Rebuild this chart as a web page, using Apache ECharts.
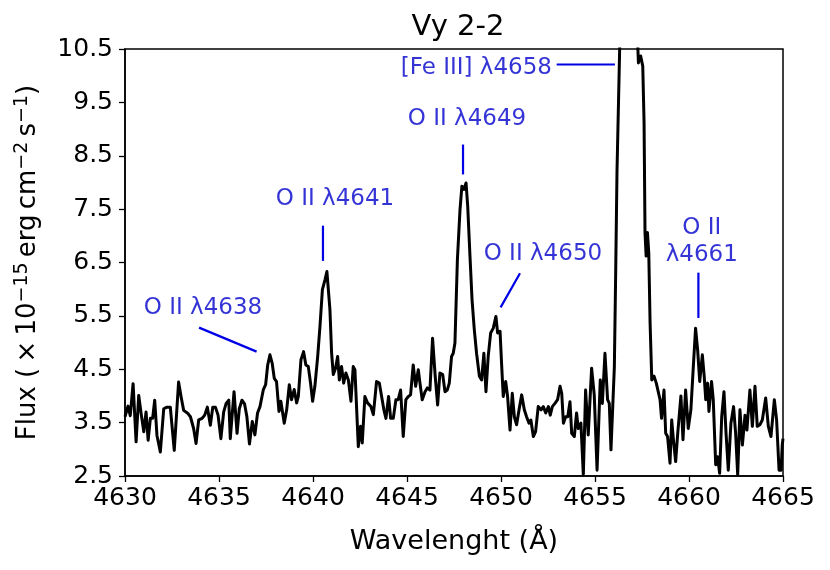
<!DOCTYPE html>
<html><head><meta charset="utf-8">
<script src="https://cdn.jsdelivr.net/npm/echarts@6/dist/echarts.min.js"></script>
<style>html,body{margin:0;padding:0;background:#fff}#c{width:830px;height:570px}</style>
</head><body><div id="c"></div>
<script>
const wavelength = [
4630.00,4630.16,4630.28,4630.43,4630.59,4630.73,4630.87,4631.00,4631.12,4631.23,4631.35,4631.47,4631.58,4631.70,4631.88,
4632.06,4632.23,4632.41,4632.62,4632.85,4633.00,4633.12,4633.22,4633.35,4633.48,4633.65,4633.78,4633.92,4634.10,4634.24,
4634.38,4634.54,4634.67,4634.81,4634.95,4635.10,4635.25,4635.38,4635.52,4635.60,4635.80,4635.96,4636.08,4636.22,4636.36,
4636.48,4636.62,4636.77,4636.91,4637.05,4637.18,4637.36,4637.48,4637.59,4637.71,4637.83,4637.94,4638.06,4638.19,4638.29,
4638.47,4638.60,4638.74,4638.86,4639.00,4639.13,4639.22,4639.36,4639.50,4639.62,4639.75,4639.87,4639.98,4640.10,4640.25,
4640.37,4640.50,4640.64,4640.74,4640.81,4640.90,4640.99,4641.08,4641.20,4641.31,4641.40,4641.52,4641.63,4641.75,4641.88,
4642.02,4642.14,4642.23,4642.41,4642.53,4642.62,4642.76,4642.90,4643.08,4643.21,4643.38,4643.53,4643.65,4643.77,4643.88,
4644.02,4644.13,4644.27,4644.41,4644.53,4644.66,4644.80,4644.94,4645.07,4645.19,4645.33,4645.46,4645.60,4645.69,4645.81,
4645.96,4646.08,4646.22,4646.36,4646.50,4646.63,4646.75,4646.90,4647.02,4647.14,4647.25,4647.37,4647.46,4647.55,4647.68,
4647.82,4647.92,4648.03,4648.14,4648.23,4648.35,4648.46,4648.58,4648.70,4648.85,4648.97,4649.09,4649.20,4649.32,4649.45,
4649.59,4649.73,4649.82,4649.95,4650.03,4650.12,4650.25,4650.35,4650.48,4650.60,4650.71,4650.83,4650.96,4651.10,4651.24,
4651.36,4651.49,4651.59,4651.72,4651.84,4651.98,4652.13,4652.25,4652.38,4652.52,4652.62,4652.73,4652.87,4653.01,4653.14,
4653.23,4653.32,4653.44,4653.55,4653.67,4653.76,4653.90,4654.02,4654.11,4654.25,4654.38,4654.50,4654.64,4654.82,4654.96,
4655.11,4655.28,4655.39,4655.53,4655.67,4655.76,4655.85,4655.92,4656.03,4656.10,4656.17,4656.25,4656.33,4656.50,4656.70,
4656.90,4657.10,4657.26,4657.31,4657.43,4657.54,4657.61,4657.66,4657.72,4657.79,4657.86,4657.93,4658.02,4658.14,4658.26,
4658.36,4658.46,4658.54,4658.67,4658.76,4658.86,4658.99,4659.08,4659.17,4659.29,4659.40,4659.57,4659.68,4659.82,4659.96,
4660.10,4660.23,4660.35,4660.46,4660.57,4660.71,4660.81,4660.89,4660.99,4661.06,4661.20,4661.29,4661.42,4661.52,4661.63,
4661.74,4661.86,4661.97,4662.09,4662.23,4662.37,4662.48,4662.59,4662.71,4662.84,4662.98,4663.08,4663.24,4663.37,4663.51,
4663.63,4663.77,4663.90,4664.08,4664.22,4664.36,4664.54,4664.66,4664.79,4664.90,4664.96,4665.00
];
const flux = [
3.61,3.81,3.63,4.23,3.14,4.01,3.64,3.33,3.70,3.17,3.58,3.58,3.92,3.26,2.95,
3.76,3.79,3.79,2.98,4.26,3.95,3.73,3.76,3.67,3.61,3.39,3.11,3.55,3.58,3.64,
3.79,3.45,3.79,3.79,3.64,3.20,3.70,3.86,3.92,3.20,4.08,3.30,3.76,3.92,3.85,
3.62,3.10,3.52,3.27,3.68,3.80,4.12,4.21,4.58,4.77,4.61,4.33,4.27,3.71,3.90,
3.49,3.74,4.21,3.93,4.12,3.87,3.99,4.68,4.83,4.58,4.55,4.24,3.90,4.18,4.74,
5.30,5.99,6.18,6.33,6.30,5.62,4.80,4.40,4.52,4.74,4.30,4.55,4.24,4.43,4.30,
3.90,4.55,4.49,3.05,3.43,3.12,3.99,3.87,3.80,3.65,4.27,4.24,3.99,3.74,3.58,
3.99,3.58,3.58,3.93,3.93,4.11,3.24,3.93,3.99,4.02,4.58,4.18,4.49,4.24,3.93,
4.08,4.15,4.11,5.08,4.37,3.83,4.43,4.40,4.08,4.11,4.24,4.74,4.80,4.99,6.55,
7.49,7.93,7.87,7.99,7.55,6.62,5.80,5.24,4.80,4.37,4.30,4.80,4.08,4.74,5.18,
5.27,5.49,5.18,5.21,4.61,3.99,4.27,3.99,3.36,4.05,3.61,3.46,3.74,4.02,3.74,
3.61,3.49,3.55,3.24,3.33,3.80,3.74,3.80,3.68,3.80,3.64,3.80,3.86,3.93,4.18,
4.05,3.49,3.61,3.61,3.89,3.30,3.24,3.68,3.39,3.49,2.52,4.11,3.27,4.52,4.02,
2.61,4.30,3.86,4.80,3.93,3.86,2.99,3.02,4.55,6.30,8.20,9.50,10.80,12.5,13.8,
13.5,12.2,10.7,10.24,10.37,10.18,9.12,7.06,6.62,7.06,6.68,5.37,4.30,4.37,4.24,
4.27,3.93,3.58,4.11,3.30,3.24,2.74,3.55,3.18,2.77,3.30,4.00,3.18,4.11,3.39,
3.74,4.55,5.27,4.86,4.27,4.77,4.36,3.93,4.24,3.71,4.27,3.93,2.71,2.86,2.55,
3.61,4.08,3.30,2.61,3.49,3.80,3.30,2.52,3.74,3.08,3.64,3.36,4.11,3.43,4.18,
3.43,3.46,3.55,3.96,3.43,3.24,3.93,3.55,2.61,2.61,3.08,3.20
];
const xTickValues = [4630,4635,4640,4645,4650,4655,4660,4665];
const yTickValues = [2.5,3.5,4.5,5.5,6.5,7.5,8.5,9.5,10.5];

const annotTexts  = ['O II \u03bb4638','O II \u03bb4641','O II \u03bb4649','O II \u03bb4650','[Fe III] \u03bb4658','O II\n\u03bb4661'];
const annotTextX  = [4634.15, 4641.17, 4648.19, 4652.23, 4652.71, 4660.68];
const annotTextY  = [5.65, 7.68, 9.18, 6.66, 10.15, 6.90];
const annotAlign  = ['center','center','center','center','right','center'];
const annotLineX0 = [4633.94, 4640.53, 4647.98, 4651.01, 4652.96, 4660.50];
const annotLineY0 = [5.28, 7.19, 8.71, 6.30, 10.21, 6.31];
const annotLineX1 = [4637.00, 4640.53, 4647.98, 4649.98, 4656.06, 4660.50];
const annotLineY1 = [4.83, 6.53, 8.15, 5.66, 10.21, 5.46];

const FONT = 'DejaVu Sans';
const BLUE_TEXT = '#0000cc';
const BLUE_LINE = '#0000e6';

const series = [{
  type: 'line',
  data: wavelength.map((w, i) => [w, flux[i]]),
  symbol: 'none',
  clip: true,
  lineStyle: { color: '#000', width: 3, join: 'round' },
  silent: true, animation: false, z: 3
}];
annotTexts.forEach((t, i) => {
  series.push({
    type: 'line',
    data: [[annotLineX0[i], annotLineY0[i]], [annotLineX1[i], annotLineY1[i]]],
    symbol: 'none', clip: false,
    lineStyle: { color: BLUE_LINE, width: 2.2 },
    silent: true, animation: false, z: 4
  });
});
series.push({
  type: 'scatter',
  symbolSize: 0,
  data: annotTexts.map((t, i) => ({ value: [annotTextX[i], annotTextY[i]], name: t,
    label: { align: annotAlign[i] } })),
  label: {
    show: true, position: [0, 0], formatter: p => p.name,
    color: BLUE_TEXT, fontFamily: FONT, fontSize: 23, lineHeight: 27,
    align: 'center', verticalAlign: 'middle'
  },
  silent: true, animation: false, clip: false, z: 5
});

const chart = echarts.init(document.getElementById('c'), null, { renderer: 'canvas' });
chart.setOption({
  animation: false,
  backgroundColor: '#fff',
  title: {
    text: 'Vy 2-2', left: 453, top: 8, textAlign: 'center',
    textStyle: { fontFamily: FONT, fontSize: 29, fontWeight: 'normal', color: '#000' }
  },
  grid: { left: 125, right: 47, top: 49, height: 427, show: true, borderColor: '#000', borderWidth: 1.5, backgroundColor: 'transparent' },
  xAxis: {
    type: 'value', min: 4630, max: 4665, interval: 5,
    name: 'Wavelenght (\u00c5)', nameLocation: 'middle', nameGap: 52,
    nameTextStyle: { fontFamily: FONT, fontSize: 27, color: '#000' },
    axisLine: { show: true, lineStyle: { color: '#000', width: 1.5 } },
    axisTick: { show: true, inside: false, length: 6, lineStyle: { color: '#000', width: 1.3 } },
    axisLabel: { color: '#000', fontFamily: FONT, fontSize: 25, margin: 10, formatter: v => String(v) },
    splitLine: { show: false }
  },
  yAxis: {
    type: 'value', min: 2.5, max: 10.5, interval: 1,
    name: 'Flux (\u2009\u00d7\u200910{s|\u221215}\u2009erg\u2009cm{s|\u22122}\u2009s{s|\u22121})', nameLocation: 'middle', nameGap: 82, nameRotate: 90,
    nameTextStyle: { fontFamily: FONT, fontSize: 26, color: '#000', lineHeight: 30,
      rich: { s: { fontFamily: FONT, fontSize: 19, lineHeight: 14, verticalAlign: 'top', color: '#000' } } },
    axisLine: { show: true, lineStyle: { color: '#000', width: 1.5 } },
    axisTick: { show: true, inside: false, length: 6, lineStyle: { color: '#000', width: 1.3 } },
    axisLabel: { color: '#000', fontFamily: FONT, fontSize: 25, margin: 12, formatter: v => v.toFixed(1) },
    splitLine: { show: false }
  },
  series: series
});
</script></body></html>
